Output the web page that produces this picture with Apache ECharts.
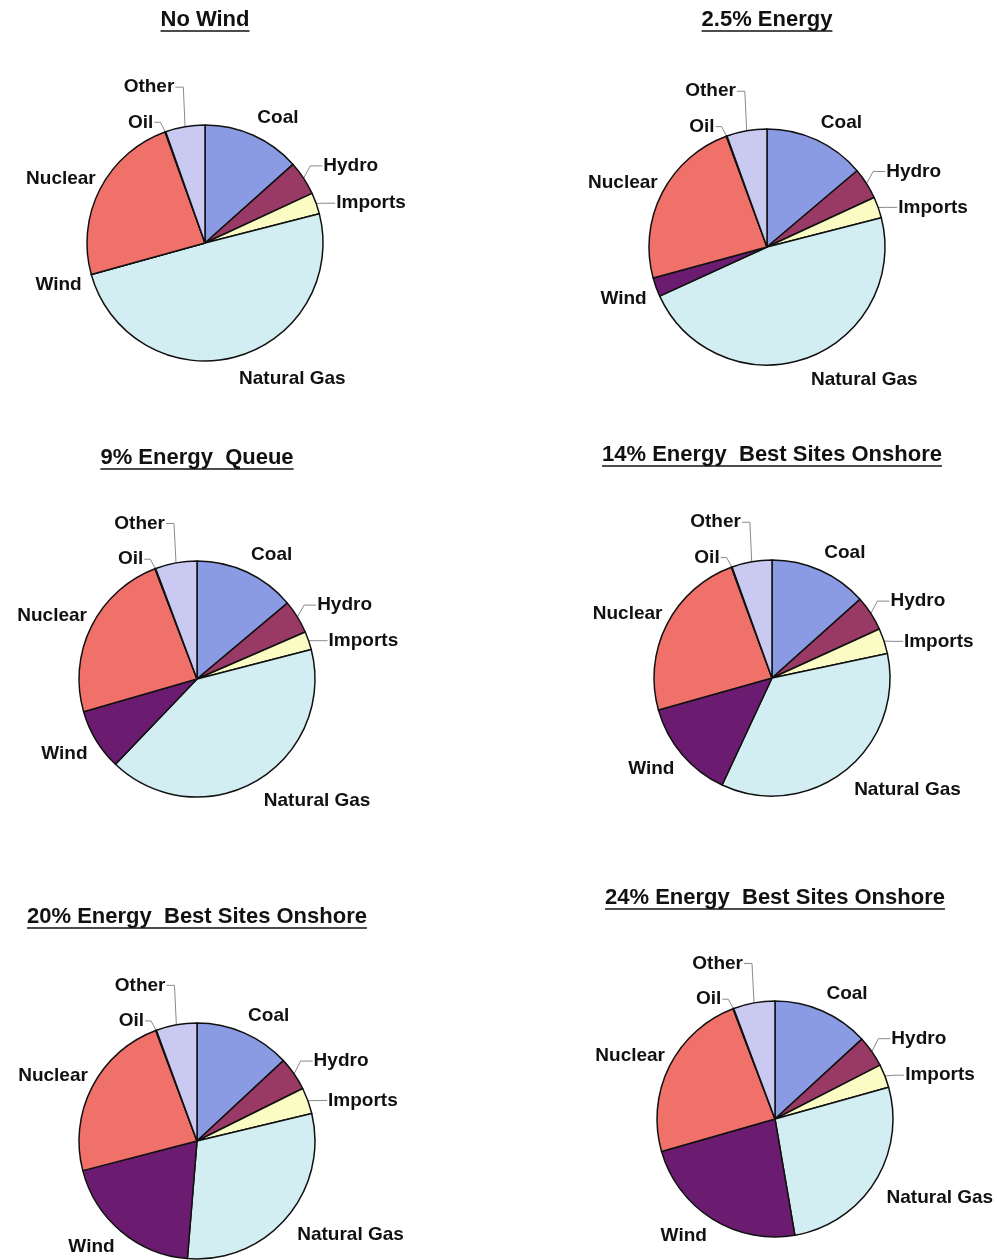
<!DOCTYPE html>
<html>
<head>
<meta charset="utf-8">
<script src="https://cdn.jsdelivr.net/npm/echarts@6/dist/echarts.min.js"></script>
<style>
  html, body { margin: 0; padding: 0; background: #ffffff; }
  #chart { width: 997px; height: 1260px; }
</style>
</head>
<body>
<div id="chart"></div>
<script>
// Generation mix (% of energy) for each wind penetration scenario
const sources = ['Coal', 'Hydro', 'Imports', 'Natural Gas', 'Wind', 'Nuclear', 'Oil', 'Other'];
const scenarioTitles = [
  'No Wind',
  '2.5% Energy',
  '9% Energy  Queue',
  '14% Energy  Best Sites Onshore',
  '20% Energy  Best Sites Onshore',
  '24% Energy  Best Sites Onshore'
];
const mixNoWind   = [13.4, 4.7, 2.9, 49.7, 0.0, 23.8, 0.1, 5.4];
const mix2_5      = [13.8, 4.3, 2.9, 47.1, 2.6, 23.6, 0.1, 5.5];
const mix9Queue   = [13.9, 4.6, 2.5, 41.2, 8.4, 23.7, 0.1, 5.7];
const mix14Best   = [13.4, 4.8, 3.5, 35.3, 13.7, 23.8, 0.1, 5.5];
const mix20Best   = [13.1, 4.6, 3.6, 30.1, 19.7, 23.4, 0.1, 5.6];
const mix24Best   = [13.2, 4.3, 3.2, 26.7, 23.3, 23.7, 0.1, 5.7];
const scenarioMixes = [mixNoWind, mix2_5, mix9Queue, mix14Best, mix20Best, mix24Best];

// Slice colours (classic office chart palette)
const sourceColors = ['#8b9be3', '#993a66', '#fbfbc4', '#d2eef2', '#6c1c70', '#f0716a', '#0066cc', '#c9c9f2'];

// Label placement per source: leader line on/off, distance outside the rim,
// angular nudge (deg) and the short horizontal stub of the leader line
const leaderLine  = [false, true, true, false, false, false, true, true];
const labelGap    = [10, 19, 17, 14, 10, 5, 6, 33];
const labelNudge  = [0, 3, 6, 0, 0, 0, -5, -2];
const leaderStub  = [0, 12, 10, 0, 0, 0, 6, 8];

// Layout of the 3x2 grid of pies
const pieCenters = [[205, 243], [767, 247], [197, 679], [772, 678], [197, 1141], [775, 1119]];
const titleCenters = [[205, 20], [767, 20], [197, 458], [772, 455], [197, 917], [775, 898]];
const pieRadius = 118;

const FONT = '"Liberation Sans", Arial, Helvetica, sans-serif';

// Mid angle of a slice, degrees clockwise from 12 o'clock
function midAngle(mix, k) {
  const total = mix.reduce((a, b) => a + b, 0);
  let before = 0;
  for (let j = 0; j < k; j++) before += mix[j];
  return (before + mix[k] / 2) / total * 360;
}

// Place each label just outside the rim along its slice direction,
// with the label box corner nearest the pie touching that point
function placeLabel(params) {
  const s = params.seriesIndex, k = params.dataIndex;
  const [cx, cy] = pieCenters[s];
  const raw = midAngle(scenarioMixes[s], k);
  const a = (raw + labelNudge[k]) * Math.PI / 180;
  const dx = Math.sin(a), dy = -Math.cos(a);
  const R = pieRadius + labelGap[k];
  const w = params.labelRect.width;
  const hh = 8;
  const sx = dx >= 0 ? 1 : -1, sy = dy >= 0 ? 1 : -1;
  const lx = cx + R * dx + sx * w / 2;
  const ly = cy + R * dy + sy * hh;
  const ar = raw * Math.PI / 180;
  const ex = cx + pieRadius * Math.sin(ar), ey = cy - pieRadius * Math.cos(ar);
  const ax = lx - sx * (w / 2 + 1), ay = ly;
  const bx = ax - sx * leaderStub[k], by = ay;
  return {
    x: lx, y: ly, align: 'center', verticalAlign: 'middle',
    labelLinePoints: [[ex, ey], [bx, by], [ax, ay]]
  };
}

const chart = echarts.init(document.getElementById('chart'), null, { renderer: 'canvas' });

const series = scenarioMixes.map((mix, i) => ({
  type: 'pie',
  center: pieCenters[i],
  radius: pieRadius,
  startAngle: 90,
  clockwise: true,
  animation: false,
  silent: true,
  avoidLabelOverlap: false,
  itemStyle: { borderColor: '#111', borderWidth: 1.5 },
  label: {
    show: true,
    position: 'outside',
    formatter: '{b}',
    color: '#111',
    fontFamily: FONT,
    fontWeight: 'bold',
    fontSize: 19,
    overflow: 'none',
    bleedMargin: -400,
    distanceToLabelLine: 3
  },
  labelLine: {
    length: 12,
    length2: 4,
    smooth: false,
    lineStyle: { color: '#8a8a8a', width: 1 }
  },
  labelLayout: placeLabel,
  data: sources.map((name, k) => ({
    name: name,
    value: mix[k],
    itemStyle: { color: sourceColors[k] },
    labelLine: { show: leaderLine[k] }
  }))
}));

// Underlined scenario titles
const measureCtx = document.createElement('canvas').getContext('2d');
const titleFont = 'bold 22px ' + FONT;
measureCtx.font = titleFont;
const graphics = [];
scenarioTitles.forEach((t, i) => {
  const [cx, cy] = titleCenters[i];
  const w = measureCtx.measureText(t).width;
  graphics.push({
    type: 'text',
    x: cx, y: cy,
    style: { text: t, font: titleFont, fill: '#111', align: 'center', verticalAlign: 'middle' },
    silent: true
  });
  graphics.push({
    type: 'line',
    shape: { x1: cx - w / 2, y1: cy + 11, x2: cx + w / 2, y2: cy + 11 },
    style: { stroke: '#111', lineWidth: 1.5 },
    silent: true
  });
});

chart.setOption({
  backgroundColor: '#ffffff',
  animation: false,
  series: series,
  graphic: graphics
});
</script>
</body>
</html>
